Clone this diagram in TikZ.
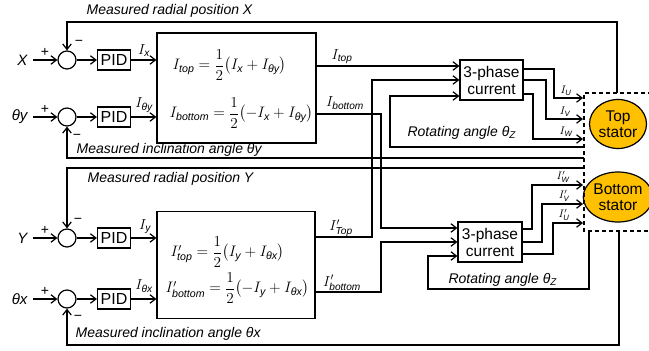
\RequirePackage{fix-cm}
\documentclass[tikz,border=0pt]{standalone}
\usepackage{amsmath}
\usepackage[no-math]{fontspec}
\setmainfont{Liberation Sans}
\usetikzlibrary{arrows.meta,shapes.geometric}
\definecolor{statorfill}{RGB}{255,192,0}
\begin{document}
\begin{tikzpicture}[x=1pt,y=-1pt,line width=1.2pt,
  every node/.style={inner sep=0pt},
  sumnode/.style={circle,draw,minimum size=18pt},
  pidbox/.style={draw,minimum width=33pt,minimum height=20pt,font=\fontsize{16}{18}\selectfont},
  phbox/.style={draw,align=center,minimum width=63pt,minimum height=40pt,font=\fontsize{15.5}{17}\selectfont},
  stator/.style={ellipse,draw,fill=statorfill,minimum width=57pt,minimum height=49pt,align=center,font=\fontsize{15.5}{16.5}\selectfont},
  lbl/.style={font=\fontsize{14}{16}\selectfont\itshape},
  sig/.style={font=\fontsize{15}{17}\selectfont\itshape},
  sgn/.style={font=\fontsize{14}{15}\selectfont},
  eqfont/.style={font=\fontsize{15.2}{17}\selectfont},
  cur/.style={font=\fontsize{14.5}{16}\selectfont},
  smallcur/.style={font=\fontsize{11}{12}\selectfont},
  arr/.style={-{Straight Barb[length=5.5pt,width=8.5pt]}},
  dashbox/.style={dash pattern=on 4pt off 3pt,line width=1.3pt}]
\useasboundingbox (0,0) rectangle (649,351);

% summing junctions
\node[sumnode] (s1) at (67,60) {};
\node[sumnode] (s2) at (67,117) {};
\node[sumnode] (s3) at (67,238) {};
\node[sumnode] (s4) at (67,299) {};

% inputs
\node[sig,anchor=east] (inX) at (28,60) {X};
\node[sig,anchor=east] (inTy) at (28,117) {θy};
\node[sig,anchor=east] (inY) at (28,238) {Y};
\node[sig,anchor=east] (inTx) at (28,299) {θx};

% signs
\node[sgn] (pl1) at (45,52) {+};
\node[sgn] (mi1) at (79,43) {−};
\node[sgn] (pl2) at (45,109) {+};
\node[sgn] (mi2) at (77,137) {−};
\node[sgn] (pl3) at (45,230) {+};
\node[sgn] (mi3) at (78,221) {−};
\node[sgn] (pl4) at (45,291) {+};
\node[sgn] (mi4) at (78,318) {−};

% PID
\node[pidbox] (p1) at (114,60) {PID};
\node[pidbox] (p2) at (114,117) {PID};
\node[pidbox] (p3) at (114,238) {PID};
\node[pidbox] (p4) at (114,299) {PID};

% decoupling boxes
\node[draw,minimum width=159pt,minimum height=110pt] (b1) at (236.5,88) {};
\node[draw,minimum width=158pt,minimum height=107pt] (b2) at (236,265) {};
\node[eqfont,anchor=west] (e1) at (172,65) {$I_{\textit{top}}=\dfrac{1}{2}\bigl(I_{\textit{x}}+I_{\textit{θy}}\bigr)$};
\node[eqfont,anchor=west] (e2) at (169,113) {$I_{\textit{bottom}}=\dfrac{1}{2}\bigl(-I_{\textit{x}}+I_{\textit{θy}}\bigr)$};
\node[eqfont,anchor=west] (e3) at (170,252) {$I'_{\textit{top}}=\dfrac{1}{2}\bigl(I_{\textit{y}}+I_{\textit{θx}}\bigr)$};
\node[eqfont,anchor=west] (e4) at (165,288) {$I'_{\textit{bottom}}=\dfrac{1}{2}\bigl(-I_{\textit{y}}+I_{\textit{θx}}\bigr)$};

% 3-phase boxes
\node[phbox] (ph1) at (491.5,80) {3-phase\\current};
\node[phbox,minimum width=64pt] (ph2) at (490,242) {3-phase\\current};

% stators and sensor box
\node[stator] (st1) at (618,124) {Top\\stator};
\node[stator,minimum height=50pt] (st2) at (618,197) {Bottom\\stator};
\coordinate (dbTR) at (652,93);
\coordinate (dbTL) at (584,93);
\coordinate (dbBL) at (584,231);
\coordinate (dbBR) at (652,231);
\draw[dashbox] (dbTR) -- (dbTL) -- (dbBL) -- (dbBR);

% inputs to junctions
\draw[arr,shorten <=5pt] (inX) -- (s1);
\draw[arr,shorten <=5pt] (inTy) -- (s2);
\draw[arr,shorten <=5pt] (inY) -- (s3);
\draw[arr,shorten <=5pt] (inTx) -- (s4);
\draw[arr] (s1) -- (p1);
\draw[arr] (s2) -- (p2);
\draw[arr] (s3) -- (p3);
\draw[arr] (s4) -- (p4);
\draw[arr] (p1) -- (p1 -| b1.west);
\draw[arr] (p2) -- (p2 -| b1.west);
\draw[arr] (p3) -- (p3 -| b2.west);
\draw[arr] (p4) -- (p4 -| b2.west);
\node[cur,anchor=south] (lIx) at (144,57) {$I_{\textit{x}}$};
\node[cur,anchor=south] (lIty) at (144,113) {$I_{\textit{θy}}$};
\node[cur,anchor=south] (lIy) at (145,234) {$I_{\textit{y}}$};
\node[cur,anchor=south] (lItx) at (144,293) {$I_{\textit{θx}}$};

% feedback lines
\coordinate (fbX) at (617,93);
\coordinate (fbTy) at (584,158);
\coordinate (fbY) at (584,168);
\coordinate (fbTx) at (619,231);
\draw[arr] (fbX) -- (617,22) -| (s1.north);
\draw[arr] (fbTy) -| (s2.south);
\draw[arr] (fbY) -| (s3.north);
\draw[arr] (fbTx) -- (619,345) -| (s4.south);
\node[lbl,anchor=west] (tfbX) at (86,11) {Measured radial position X};
\node[lbl,anchor=west] (tfbTy) at (76,150) {Measured inclination angle θy};
\node[lbl,anchor=west] (tfbY) at (87,179) {Measured radial position Y};
\node[lbl,anchor=west] (tfbTx) at (75,334) {Measured inclination angle θx};

% currents to 3-phase
\draw[arr] ([yshift=22pt]b1.east) -- ([yshift=14pt]ph1.west);
\draw[arr] ([yshift=-26pt]b1.east) -| (381,228) -- ([yshift=14pt]ph2.west);
\draw[arr] ([yshift=28pt]b2.east) -| (372,80) -- (ph1.west);
\draw[arr] ([yshift=-27pt]b2.east) -| (381,242) -- (ph2.west);
\node[cur] (lItop) at (342,57) {$I_{\textit{top}}$};
\node[cur] (lIbot) at (345,103) {$I_{\textit{bottom}}$};
\node[cur] (lIptop) at (341,228) {$I'_{\textit{Top}}$};
\node[cur] (lIpbot) at (342,283) {$I'_{\textit{bottom}}$};

% rotating angle
\coordinate (rot1) at (584,147);
\coordinate (rot2) at (589,231);
\draw[arr] (rot1) -| (390,96) -- ([yshift=-16pt]ph1.west);
\draw[arr] (rot2) -- (589,289) -| (428,256) -- ([yshift=-14pt]ph2.west);
\node[lbl,anchor=west] (trot1) at (407,133) {Rotating angle θ\textsubscript{Z}};
\node[lbl,anchor=west] (trot2) at (448,280) {Rotating angle θ\textsubscript{Z}};

% phase outputs
\coordinate (tU) at (583,98);
\coordinate (tV) at (583,119);
\coordinate (tW) at (583,139);
\coordinate (tW2) at (583,185);
\coordinate (tV2) at (583,204);
\coordinate (tU2) at (583,223);
\draw[arr] ([yshift=11pt]ph1.east) -| (554,98) -- (tU);
\draw[arr] (ph1.east) -| (546,119) -- (tV);
\draw[arr] ([yshift=-14pt]ph1.east) -| (533,139) -- (tW);
\draw[arr] ([yshift=13pt]ph2.east) -| (532,185) -- (tW2);
\draw[arr] (ph2.east) -| (542,204) -- (tV2);
\draw[arr] ([yshift=-12pt]ph2.east) -| (553,223) -- (tU2);
\node[smallcur] (lU) at (566,91) {$I_{\textit{U}}$};
\node[smallcur] (lV) at (565,112) {$I_{\textit{V}}$};
\node[smallcur] (lW) at (566,132) {$I_{\textit{W}}$};
\node[smallcur] (lW2) at (563,177) {$I'_{\textit{W}}$};
\node[smallcur] (lV2) at (564,196) {$I'_{\textit{V}}$};
\node[smallcur] (lU2) at (564,215) {$I'_{\textit{U}}$};
\end{tikzpicture}
\end{document}
